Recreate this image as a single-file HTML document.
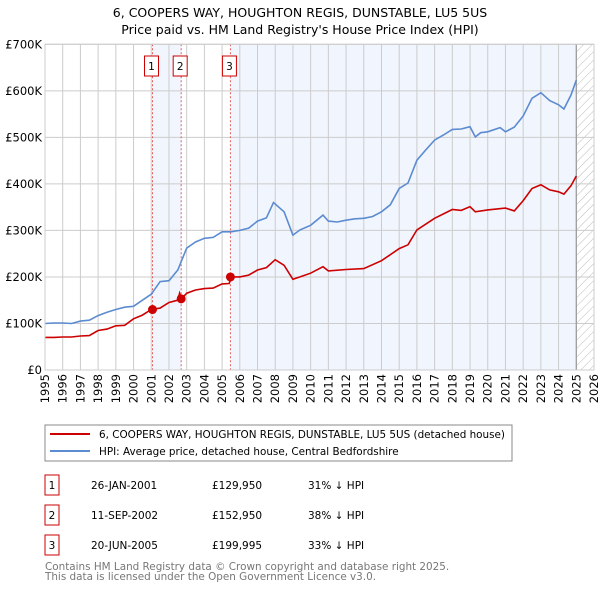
<!DOCTYPE html>
<html><head><meta charset="utf-8"><style>
body{margin:0;background:#fff;font-family:"DejaVu Sans","Liberation Sans",sans-serif;}
svg text{font-family:"DejaVu Sans","Liberation Sans",sans-serif;}
</style></head><body>
<svg id="chart" width="600" height="590" xmlns="http://www.w3.org/2000/svg">
<defs><pattern id="hatch" width="6" height="6" patternUnits="userSpaceOnUse" patternTransform="rotate(45)"><line x1="0" y1="0" x2="0" y2="6" stroke="#bbb" stroke-width="1"/></pattern></defs>
<text x="300" y="17" text-anchor="middle" font-size="12.5">6, COOPERS WAY, HOUGHTON REGIS, DUNSTABLE, LU5 5US</text>
<text x="300" y="34" text-anchor="middle" font-size="12.5">Price paid vs. HM Land Registry's House Price Index (HPI)</text>
<g id="plot"></g>
<g>
<rect x="45" y="425" width="467" height="36" fill="#fff" stroke="#888"/>
<line x1="50" y1="434" x2="90" y2="434" stroke="#cc0000" stroke-width="2"/>
<text x="99" y="438" font-size="10.4">6, COOPERS WAY, HOUGHTON REGIS, DUNSTABLE, LU5 5US (detached house)</text>
<line x1="50" y1="451" x2="90" y2="451" stroke="#5b8bd0" stroke-width="2"/>
<text x="99" y="455" font-size="10.4">HPI: Average price, detached house, Central Bedfordshire</text>
</g>
<g id="table" font-size="10.5"></g>
<text x="45" y="570" font-size="10.4" fill="#777">Contains HM Land Registry data © Crown copyright and database right 2025.</text>
<text x="45" y="580" font-size="10.4" fill="#777">This data is licensed under the Open Government Licence v3.0.</text>
</svg>
<script>
const hpiYears=[1995,1995.5,1996,1996.5,1997,1997.5,1998,1998.5,1999,1999.5,2000,2000.5,2001,2001.5,2002,2002.5,2002.8,2003,2003.5,2004,2004.5,2005,2005.5,2006,2006.5,2007,2007.5,2007.9,2008.5,2009,2009.4,2010,2010.7,2011,2011.5,2012,2012.5,2013,2013.5,2014,2014.5,2015,2015.5,2016,2016.5,2017,2017.5,2018,2018.5,2019,2019.3,2019.6,2020,2020.7,2021,2021.5,2022,2022.5,2023,2023.5,2024,2024.3,2024.7,2025];
const hpiValues=[100,101,101,100,105,107,117,124,130,135,137,150,163,190,192,215,243,262,275,283,285,297,297,300,305,320,327,360,340,290,301,311,333,320,318,322,325,326,330,340,355,390,402,451,473,494,505,517,518,523,501,510,512,521,512,522,546,584,596,579,570,561,591,623];
const priceYears=[1995,1995.5,1996,1996.5,1997,1997.5,1998,1998.5,1999,1999.5,2000,2000.5,2001,2001.5,2002,2002.5,2002.6,2002.7,2003,2003.5,2004,2004.5,2005,2005.4,2005.5,2006,2006.5,2007,2007.5,2008,2008.5,2009,2009.4,2010,2010.7,2011,2012,2013,2014,2015,2015.5,2016,2017,2018,2018.5,2019,2019.3,2020,2021,2021.5,2022,2022.5,2023,2023.5,2024,2024.3,2024.7,2025];
const priceValues=[70,70,71,71,73,74,85,88,95,96,110,118,130,133,145,150,165,153,165,172,175,176,185,186,200,200,204,215,220,237,225,195,200,208,222,213,216,218,235,261,269,301,326,345,343,351,340,344,348,342,364,390,398,387,383,378,396,417];
const saleLabels=["1","2","3"];
const saleYears=[2001.07,2002.69,2005.47];
const salePrices=[129950,152950,199995];
const saleDates=["26-JAN-2001","11-SEP-2002","20-JUN-2005"];
const salePriceText=["£129,950","£152,950","£199,995"];
const salePctText=["31% ↓ HPI","38% ↓ HPI","33% ↓ HPI"];
const yTicks=[0,100,200,300,400,500,600,700];
const yTickLabels=["£0","£100K","£200K","£300K","£400K","£500K","£600K","£700K"];
const xTicks=[1995,1996,1997,1998,1999,2000,2001,2002,2003,2004,2005,2006,2007,2008,2009,2010,2011,2012,2013,2014,2015,2016,2017,2018,2019,2020,2021,2022,2023,2024,2025,2026];
const dataEnd=2025.0;

const X0=45,X1=594,Y0=370,Y1=44.3;
const xs=y=>X0+(y-1995)/(2026-1995)*(X1-X0);
const ys=v=>Y0-v/700*(Y0-Y1);
const NS="http://www.w3.org/2000/svg";
const plot=document.getElementById('plot');
function mk(tag,attrs,parent){const e=document.createElementNS(NS,tag);for(const k in attrs)e.setAttribute(k,attrs[k]);(parent||plot).appendChild(e);return e;}

const bg=mk('rect',{x:X0,y:Y1,width:X1-X0,height:Y0-Y1,fill:'#fff'});


const b1=mk('rect',{x:xs(saleYears[0]),y:Y1,width:xs(saleYears[1])-xs(saleYears[0]),height:Y0-Y1,fill:'#f1f5fd'});


const b2=mk('rect',{x:xs(saleYears[2]),y:Y1,width:xs(dataEnd)-xs(saleYears[2]),height:Y0-Y1,fill:'#f1f5fd'});


const hz=mk('rect',{x:xs(dataEnd),y:Y1,width:X1-xs(dataEnd),height:Y0-Y1,fill:'url(#hatch)'});


xTicks.forEach(t=>{const l=mk('line',{x1:xs(t),x2:xs(t),y1:Y1,y2:Y0,stroke:'#ccc','stroke-width':1});


const tx=mk('text',{x:0,y:0,'font-size':11.5,'text-anchor':'end',transform:`translate(${xs(t)+4},${Y0+4}) rotate(-90)`});tx.textContent=t;

});
yTicks.forEach((t,i)=>{const l=mk('line',{x1:X0,x2:X1,y1:ys(t),y2:ys(t),stroke:'#ccc','stroke-width':1});


const tx=mk('text',{x:X0-3,y:ys(t)+4,'font-size':11.5,'text-anchor':'end'});tx.textContent=yTickLabels[i];

});
const el=mk('line',{x1:xs(dataEnd),x2:xs(dataEnd),y1:Y1,y2:Y0,stroke:'#999','stroke-width':1.2});


saleYears.forEach((y,i)=>{const l=mk('line',{x1:xs(y),x2:xs(y),y1:Y1,y2:Y0,stroke:'#e06060','stroke-width':1,'stroke-dasharray':'2,2'});


const r=mk('rect',{x:xs(y)-8,y:56,width:14,height:20,fill:'#fff',stroke:'#cc0000'});


const t=mk('text',{x:xs(y)-1,y:70,'font-size':10.5,'text-anchor':'middle'});t.textContent=saleLabels[i];

});
function path(xa,va){return xa.map((x,i)=>(i?'L':'M')+xs(x).toFixed(1)+','+ys(va[i]).toFixed(1)).join('');}
const hp=mk('path',{d:path(hpiYears,hpiValues),fill:'none',stroke:'#5b8bd0','stroke-width':1.6});


const pp=mk('path',{d:path(priceYears,priceValues),fill:'none',stroke:'#cc0000','stroke-width':1.6});


saleYears.forEach((y,i)=>{const c=mk('circle',{cx:xs(y),cy:ys(salePrices[i]/1000),r:4.5,fill:'#cc0000'});

});
const fr=mk('rect',{x:X0,y:Y1,width:X1-X0,height:Y0-Y1,fill:'none',stroke:'#ccc'});


const tb=document.getElementById('table');
saleLabels.forEach((s,i)=>{const y0=475+i*30;
const r=mk('rect',{x:45,y:y0,width:14,height:20,fill:'#fff',stroke:'#cc0000'},tb);


const vals=[[52,s,'middle'],[91,saleDates[i],'start'],[212,salePriceText[i],'start'],[308,salePctText[i],'start']];
vals.forEach(v=>{const t=mk('text',{x:v[0],y:y0+14,'text-anchor':v[2]},tb);t.textContent=v[1];

});});
</script>
</body></html>
